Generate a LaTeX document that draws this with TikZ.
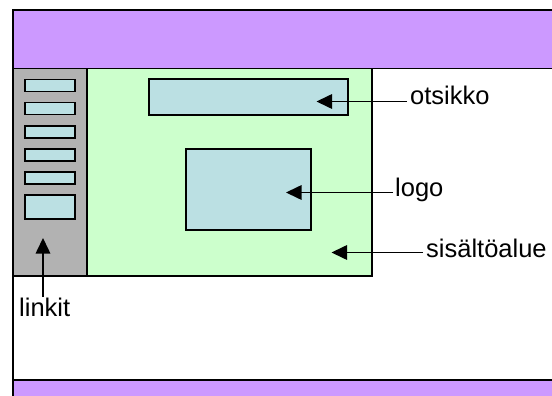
\documentclass[tikz,border=0pt]{standalone}
\usepackage{fontspec}
\setmainfont{Liberation Sans}
\usetikzlibrary{arrows.meta}
\definecolor{bandcol}{HTML}{CC99FF}
\definecolor{sidecol}{HTML}{B2B2B2}
\definecolor{contcol}{HTML}{CCFFCC}
\definecolor{itemcol}{HTML}{BBE0E3}
\begin{document}
\begin{tikzpicture}[x=1pt,y=-1pt,
  box/.style={draw=black, line width=1.9pt, anchor=north west, inner sep=0pt, outer sep=0pt},
  lbl/.style={anchor=base west, inner sep=0pt, font=\fontsize{25.5}{30}\selectfont},
  arr/.style={line width=1.6pt, -{Triangle[length=15.5pt,width=14.5pt]}}]
\useasboundingbox (0,0) rectangle (552,396);
\clip (0,0) rectangle (552,396);
\fill[white] (0,0) rectangle (552,396);
% page frame
\node[box, fill=white, minimum width=560pt, minimum height=400pt] (page) at (13.3,10) {};
% bands and areas
\node[box, fill=bandcol, minimum width=560pt, minimum height=58.5pt] (header) at (13.3,10) {};
\node[box, fill=sidecol, minimum width=74pt, minimum height=207.5pt] (sidebar) at (13.3,68.5) {};
\node[box, fill=contcol, minimum width=284.7pt, minimum height=207.5pt] (content) at (87.3,68.5) {};
\node[box, fill=bandcol, minimum width=560pt, minimum height=30pt] (footer) at (13.3,380) {};
% content items
\node[box, fill=itemcol, minimum width=199pt, minimum height=36pt] (title) at (149,79) {};
\node[box, fill=itemcol, minimum width=124.7pt, minimum height=80.7pt] (logobox) at (186,149.3) {};
% sidebar links
\node[box, fill=itemcol, minimum width=50.3pt, minimum height=12pt] (link1) at (25,79.5) {};
\node[box, fill=itemcol, minimum width=50.3pt, minimum height=12pt] (link2) at (25,102.5) {};
\node[box, fill=itemcol, minimum width=50.3pt, minimum height=12pt] (link3) at (25,125.8) {};
\node[box, fill=itemcol, minimum width=50.3pt, minimum height=12pt] (link4) at (25,149) {};
\node[box, fill=itemcol, minimum width=50.3pt, minimum height=12pt] (link5) at (25,172.3) {};
\node[box, fill=itemcol, minimum width=50.3pt, minimum height=24pt] (link6) at (25,195) {};
% labels
\node[lbl] (lotsikko) at (410,105) {otsikko};
\node[lbl] (llogo) at (395,196) {logo};
\node[lbl] (lsisalto) at (426,257.5) {sisältöalue};
\node[lbl] (llinkit) at (19,316.5) {linkit};
% arrow ends
\coordinate (otsikkoStart) at (407,101.5);
\coordinate (otsikkoTip) at (316.5,101.5);
\coordinate (logoStart) at (393,192.5);
\coordinate (logoTip) at (286,192.5);
\coordinate (sisaltoStart) at (423,252.5);
\coordinate (sisaltoTip) at (331.5,252.5);
\coordinate (linkitStart) at (43,297);
\coordinate (linkitTip) at (43,238);
\draw[arr] (otsikkoStart) -- (otsikkoTip);
\draw[arr] (logoStart) -- (logoTip);
\draw[arr] (sisaltoStart) -- (sisaltoTip);
\draw[arr] (linkitStart) -- (linkitTip);
\end{tikzpicture}
\end{document}
